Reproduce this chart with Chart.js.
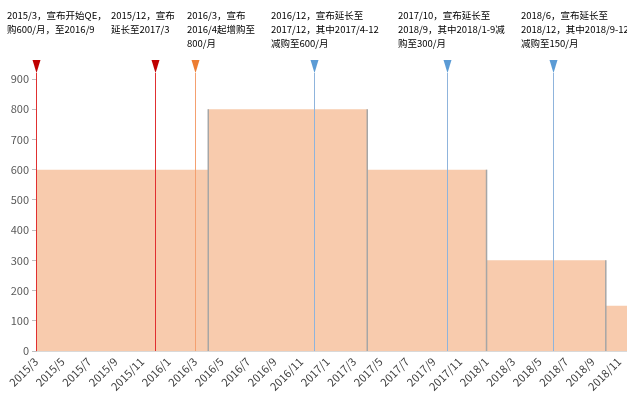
<!DOCTYPE html>
<html lang="zh">
<head>
<meta charset="UTF-8">
<title>欧央行QE月度购债规模</title>
<style>
    body { margin: 0; background: #fff; }
    #wrap { width: 627px; height: 401px; position: relative; overflow: hidden; }
</style>
</head>
<body>
<div id="wrap"><canvas id="qe-chart"></canvas></div>
<script src="https://cdn.jsdelivr.net/npm/chart.js@4.4.1/dist/chart.umd.min.js"></script>
<script>
    var months = [
        '2015/3', '2015/4', '2015/5', '2015/6', '2015/7', '2015/8', '2015/9', '2015/10', '2015/11', '2015/12',
        '2016/1', '2016/2', '2016/3', '2016/4', '2016/5', '2016/6', '2016/7', '2016/8', '2016/9', '2016/10', '2016/11', '2016/12',
        '2017/1', '2017/2', '2017/3', '2017/4', '2017/5', '2017/6', '2017/7', '2017/8', '2017/9', '2017/10', '2017/11', '2017/12',
        '2018/1', '2018/2', '2018/3', '2018/4', '2018/5', '2018/6', '2018/7', '2018/8', '2018/9', '2018/10', '2018/11', '2018/12'
    ];
    // monthly purchases
    var purchases = [
        600, 600, 600, 600, 600, 600, 600, 600, 600, 600,
        600, 600, 600, 800, 800, 800, 800, 800, 800, 800, 800, 800,
        800, 800, 800, 600, 600, 600, 600, 600, 600, 600, 600, 600,
        300, 300, 300, 300, 300, 300, 300, 300, 300, 150, 150, 150
    ];
    var eventMonths = ['2015/3', '2015/12', '2016/3', '2016/12', '2017/10', '2018/6'];
    var eventNotes = [
        ['2015/3，宣布开始QE，', '购600/月，至2016/9'],
        ['2015/12，宣布', '延长至2017/3'],
        ['2016/3，宣布', '2016/4起增购至', '800/月'],
        ['2016/12，宣布延长至', '2017/12，其中2017/4-12', '减购至600/月'],
        ['2017/10，宣布延长至', '2018/9，其中2018/1-9减', '购至300/月'],
        ['2018/6，宣布延长至', '2018/12，其中2018/9-12', '减购至150/月']
    ];

    var markerColors = ['#C00000', '#C00000', '#ED7D31', '#5B9BD5', '#5B9BD5', '#5B9BD5'];
    var lineColors = ['#E03030', '#E03030', '#F4A070', '#8FB4DC', '#8FB4DC', '#8FB4DC'];
    var noteLeft = [7, 111, 187, 271, 398, 521];

    var points = [];
    for (var i = 0; i < months.length; i++) {
        points.push({x: i, y: purchases[i]});
    }

    var narrow = "'Liberation Sans Narrow', 'Noto Sans CJK SC', sans-serif";

    // gray edge wherever the monthly amount steps up or down
    var stepEdges = {
        id: 'stepEdges',
        afterDatasetsDraw: function (chart) {
            var xs = chart.scales.x, ys = chart.scales.y, ctx = chart.ctx, a = chart.chartArea;
            ctx.save();
            ctx.beginPath();
            ctx.rect(a.left, a.top, a.right - a.left, a.bottom - a.top);
            ctx.clip();
            ctx.strokeStyle = '#A6A6A6';
            ctx.lineWidth = 1.5;
            for (var i = 1; i < purchases.length; i++) {
                if (purchases[i] === purchases[i - 1]) continue;
                var px = xs.getPixelForValue(i);
                ctx.beginPath();
                ctx.moveTo(px, ys.getPixelForValue(Math.max(purchases[i], purchases[i - 1])));
                ctx.lineTo(px, ys.getPixelForValue(0));
                ctx.stroke();
            }
            ctx.restore();
        }
    };

    // announcement markers: line, triangle, and the note above
    var announcements = {
        id: 'announcements',
        afterDraw: function (chart) {
            var xs = chart.scales.x, ys = chart.scales.y, ctx = chart.ctx, a = chart.chartArea;
            var tipY = a.top - 6;
            ctx.save();
            for (var k = 0; k < eventMonths.length; k++) {
                var px = Math.round(xs.getPixelForValue(months.indexOf(eventMonths[k]))) + 0.5;
                ctx.strokeStyle = lineColors[k];
                ctx.lineWidth = 1;
                ctx.beginPath();
                ctx.moveTo(px, tipY);
                ctx.lineTo(px, ys.getPixelForValue(0));
                ctx.stroke();

                ctx.fillStyle = markerColors[k];
                ctx.beginPath();
                ctx.moveTo(px - 4, tipY - 13);
                ctx.lineTo(px + 4, tipY - 13);
                ctx.lineTo(px, tipY);
                ctx.closePath();
                ctx.fill();

                ctx.fillStyle = '#000';
                ctx.font = '9.5px ' + narrow;
                ctx.textAlign = 'left';
                ctx.textBaseline = 'middle';
                for (var j = 0; j < eventNotes[k].length; j++) {
                    ctx.fillText(eventNotes[k][j], noteLeft[k], 15 + j * 14);
                }
            }
            ctx.restore();
        }
    };

    new Chart(document.getElementById('qe-chart'), {
        type: 'line',
        data: {
            datasets: [{
                data: points,
                stepped: 'before',
                fill: 'origin',
                backgroundColor: '#F8CBAD',
                borderWidth: 0,
                pointRadius: 0
            }]
        },
        options: {
            responsive: true,
            maintainAspectRatio: false,
            animation: false,
            layout: {padding: {top: 79, right: 0, left: 0, bottom: 0}},
            plugins: {legend: {display: false}, tooltip: {enabled: false}},
            scales: {
                x: {
                    type: 'linear',
                    min: 0,
                    max: 44.6,
                    afterFit: function (s) {
                        s.height = 50;
                        s.paddingRight = 0;
                    },
                    grid: {display: true, drawOnChartArea: false, drawTicks: false},
                    border: {display: true, color: '#D9D9D9', width: 1},
                    ticks: {
                        stepSize: 2,
                        includeBounds: false,
                        autoSkip: false,
                        minRotation: 45,
                        maxRotation: 45,
                        padding: 4,
                        color: '#404040',
                        font: {family: narrow, size: 11},
                        callback: function (v) { return months[v]; }
                    }
                },
                y: {
                    min: 0,
                    max: 900,
                    afterFit: function (s) { s.width = 36; },
                    grid: {display: true, drawOnChartArea: false, drawTicks: true, tickLength: 4, color: '#BFBFBF'},
                    border: {display: true, color: '#BFBFBF', width: 1},
                    ticks: {
                        stepSize: 100,
                        padding: 3,
                        color: '#595959',
                        font: {family: narrow, size: 11}
                    }
                }
            }
        },
        plugins: [stepEdges, announcements]
    });
</script>
</body>
</html>
